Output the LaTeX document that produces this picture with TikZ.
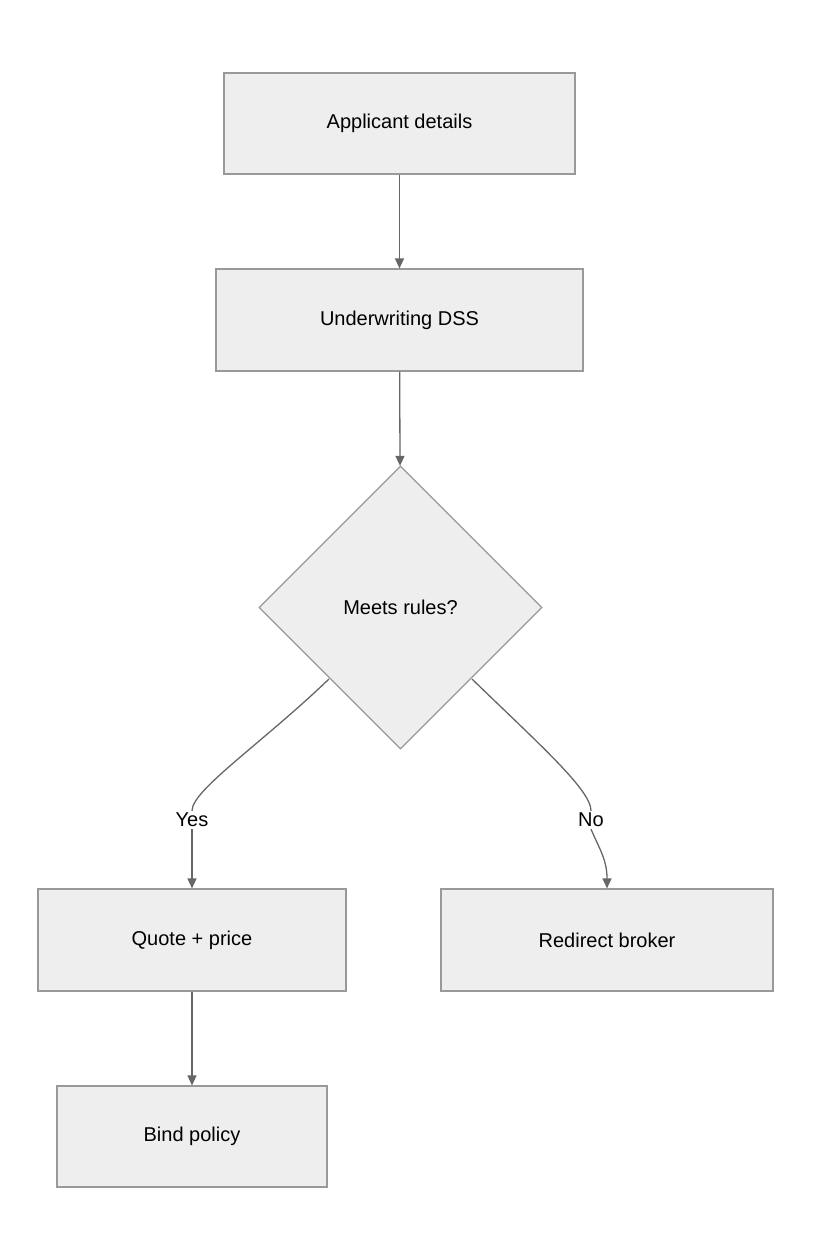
\documentclass[tikz,border=0pt]{standalone}
\usepackage{fontspec}
\setmainfont{Liberation Sans}
\usetikzlibrary{shapes.geometric,arrows.meta}
\definecolor{boxfill}{HTML}{EEEEEE}
\definecolor{boxline}{HTML}{999999}
\definecolor{edge}{HTML}{666666}
\begin{document}
\begin{tikzpicture}[x=1pt,y=-1pt,
  box/.style={draw=boxline,fill=boxfill,line width=1.2pt,font=\fontsize{20}{24}\selectfont,inner sep=0pt},
  lbl/.style={font=\fontsize{20}{24}\selectfont,inner sep=2pt},
  arr/.style={draw=edge,line width=1.3pt,-{Triangle[length=10pt,width=9pt]}},
  ln/.style={draw=edge,line width=1.3pt}]
\useasboundingbox (0,0) rectangle (812,1260);
\node[box,minimum width=351pt,minimum height=101pt] (a) at (399.5,123.5) {Applicant details};
\node[box,minimum width=367pt,minimum height=102pt] (u) at (399.5,320) {Underwriting DSS};
\node[box,diamond,minimum width=283pt,minimum height=283pt] (d) at (400.5,607.5) {Meets rules?};
\node[box,minimum width=308pt,minimum height=102pt] (q) at (192,940) {Quote + price};
\node[box,minimum width=332pt,minimum height=102pt] (r) at (607,940) {Redirect broker};
\node[box,minimum width=270pt,minimum height=101pt] (b) at (192,1136.5) {Bind policy};
\node[lbl] (yes) at (192,820) {Yes};
\node[lbl] (no) at (591,820) {No};
\coordinate (dl) at (329,679);
\coordinate (dr) at (472,679);
\draw[arr] (a) -- (u);
\draw[arr] (u) -- (d);
\draw[ln] (dl) .. controls (260,745) and (192,790) .. (yes.north);
\draw[arr] (yes.south) .. controls (192,855) and (192,860) .. (q.north);
\draw[ln] (dr) .. controls (540,745) and (591,790) .. (no.north);
\draw[arr] (no.south) .. controls (600,850) and (607,860) .. (r.north);
\draw[arr] (q) -- (b);
\end{tikzpicture}
\end{document}
